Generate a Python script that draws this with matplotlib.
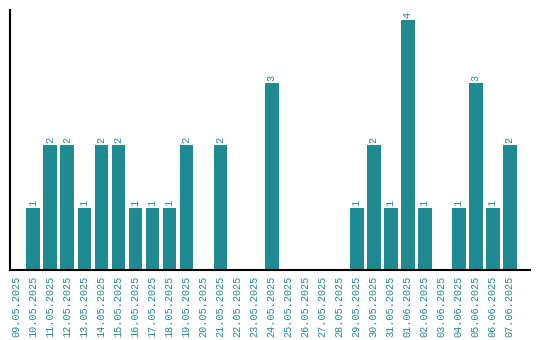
import matplotlib
matplotlib.use("Agg")
import matplotlib.pyplot as plt

# Dates and counts
dates = ["09.05.2025", "10.05.2025", "11.05.2025", "12.05.2025", "13.05.2025",
         "14.05.2025", "15.05.2025", "16.05.2025", "17.05.2025", "18.05.2025",
         "19.05.2025", "20.05.2025", "21.05.2025", "22.05.2025", "23.05.2025",
         "24.05.2025", "25.05.2025", "26.05.2025", "27.05.2025", "28.05.2025",
         "29.05.2025", "30.05.2025", "31.05.2025", "01.06.2025", "02.06.2025",
         "03.06.2025", "04.06.2025", "05.06.2025", "06.06.2025", "07.06.2025"]
counts = [0, 1, 2, 2, 1, 2, 2, 1, 1, 1,
          2, 0, 2, 0, 0, 3, 0, 0, 0, 0,
          1, 2, 1, 4, 1, 0, 1, 3, 1, 2]

color = "#1f8a91"
plt.rcParams["font.family"] = ["Liberation Mono", "DejaVu Sans Mono"]

fig = plt.figure(figsize=(5.4, 3.4), dpi=100)
ax = fig.add_axes([0.0185, 0.206, 0.963, 0.764])

x = range(len(dates))
ax.bar(x, counts, width=0.82, color=color)

for i, v in zip(x, counts):
    if v > 0:
        ax.text(i, v + 0.03, str(v), rotation=90, ha="center", va="bottom",
                fontsize=7.3, color=color)

ax.set_xticks(list(x))
ax.set_xticklabels(dates, rotation=90, fontsize=7.3, color=color)
ax.tick_params(axis="x", length=0, pad=4.5)
ax.set_yticks([])
ax.set_xlim(-0.38, len(dates) - 1 + 1.2)
ax.set_ylim(0, 4.16)

for side in ["top", "right"]:
    ax.spines[side].set_visible(False)
ax.spines["left"].set_linewidth(1.5)
ax.spines["bottom"].set_linewidth(1.5)

fig.savefig("out.png", dpi=100)
